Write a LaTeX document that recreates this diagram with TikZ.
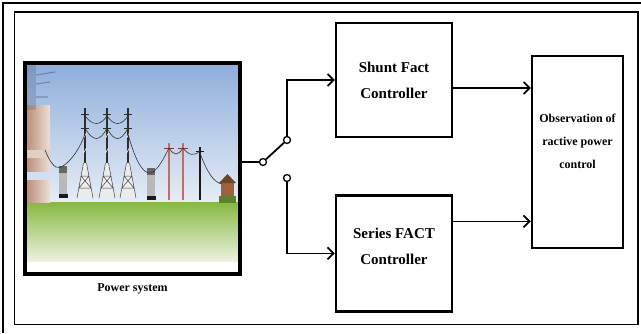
\documentclass[tikz,border=0pt]{standalone}
\usepackage{fontspec}
\setmainfont{Liberation Serif}
\usetikzlibrary{arrows.meta,positioning}
\definecolor{SkyTop}{HTML}{8FAEDC}
\definecolor{SkyLow}{HTML}{E6EDF6}
\definecolor{GrassTop}{HTML}{86B842}
\definecolor{GrassLow}{HTML}{EEF3E2}
\definecolor{PoleRed}{HTML}{C96A62}
\definecolor{BrickBrown}{HTML}{A0603E}
\tikzset{
  block/.style={
    draw,
    line width=2.4pt,
    minimum width=116pt,
    inner sep=0pt,
    align=center,
    font=\fontsize{15}{26}\selectfont\bfseries
  },
  contact/.style={
    draw,circle,fill=white,line width=1.3pt,inner sep=0pt,minimum size=7pt
  },
  wire/.style={
    line width=1.8pt,
  },
  signal/.style={
    wire,
    -{Straight Barb[length=6pt,width=12pt]},
  },
  cable/.style={
    gray!40!black,
    line width=0.6pt,
  },
  tower/.pic={
    \fill[white!85!gray] (-8,0) -- (-1.5,-35) -- (1.5,-35) -- (8,0) -- cycle;
    \draw[gray!50!black, line width=0.5pt]
      (-8,0) -- (-1.5,-35) (8,0) -- (1.5,-35)
      (-6,-10) -- (6,-10) (-4,-22) -- (4,-22)
      (-6,-10) -- (4,-22) (6,-10) -- (-4,-22);
    \fill[gray!35!black] (-1.3,-35) rectangle (1.3,-90);
    \draw[white, line width=0.5pt] (-1.3,-45) -- (1.3,-50) (-1.3,-60) -- (1.3,-65);
    \draw[gray!35!black, line width=0.8pt] (-4,-84) -- (4,-84) (-4,-70) -- (4,-70);
  },
  xfmr/.pic={
    \fill[gray!55] (-4,0) rectangle (4,-32);
    \fill[gray!80!black] (-4,-32) rectangle (4,-25);
    \fill[gray!20!black] (-4.5,0) rectangle (4.5,-4);
  },
}

\begin{document}
\begin{tikzpicture}[x=1pt,y=-1pt]
  \useasboundingbox (0,0) rectangle (641,333);
  % frames
  \draw[line width=1.3pt] (3,333) -- (3,3) -- (641,3);
  \draw[line width=1.5pt] (14.5,12) rectangle (638,324.5);

  % power system scene
  \begin{scope}
    \clip (27,65) rectangle (239,272);
    \shade[top color=SkyTop, bottom color=SkyLow] (27,65) rectangle (239,202);
    \shade[top color=GrassTop, bottom color=GrassLow] (27,202) rectangle (239,262);
    \fill[white] (27,262) rectangle (239,272);
    \shade[left color=BrickBrown!70, right color=BrickBrown!20] (27,105) rectangle (50,202);
    \fill[white!70!BrickBrown] (27,150) rectangle (50,158);
    \fill[white!60!SkyTop] (27,172) rectangle (50,180);
    \fill[SkyTop!60!black, opacity=0.3] (27,65) rectangle (36,110);
    \draw[SkyTop!50!black, opacity=0.45, line width=1.2pt] (36,75) -- (55,72) (36,84) -- (50,82) (36,97) -- (48,97);
    \pic at (63,198) {xfmr};
    \pic at (151,200) {xfmr};
    \pic at (85,198) {tower};
    \pic at (107,198) {tower};
    \pic at (128,198) {tower};
    \draw[PoleRed, line width=2pt] (169,200) -- (169,143);
    \draw[PoleRed, line width=2pt] (183,200) -- (183,143);
    \draw[PoleRed!60!black, line width=1pt] (164,148) -- (174,148) (178,148) -- (188,148);
    \draw[gray!20!black, line width=2.5pt] (200,200) -- (200,147);
    \draw[gray!20!black, line width=1pt] (196,151) -- (204,151);
    \fill[BrickBrown] (221,182) rectangle (234,200);
    \fill[BrickBrown!70!black] (219,183) -- (227.5,174) -- (236,183) -- cycle;
    \fill[GrassTop!70!black] (219,196) rectangle (236,203);
    % cables
    \draw[cable] (45,150) .. controls (54,172) and (59,168) .. (63,166);
    \draw[cable] (63,166) .. controls (72,160) and (80,148) .. (85,134);
    \draw[cable] (85,128) .. controls (93,142) and (100,142) .. (107,128);
    \draw[cable] (107,128) .. controls (114,142) and (121,142) .. (128,128);
    \draw[cable] (85,116) .. controls (93,126) and (100,126) .. (107,116);
    \draw[cable] (107,116) .. controls (114,126) and (121,126) .. (128,116);
    \draw[cable] (128,134) .. controls (134,156) and (142,175) .. (151,173);
    \draw[cable] (151,173) .. controls (158,170) and (164,158) .. (169,148);
    \draw[cable] (169,148) .. controls (174,156) and (178,156) .. (183,148);
    \draw[cable] (183,148) .. controls (189,156) and (195,156) .. (200,151);
    \draw[cable] (200,153) .. controls (207,172) and (214,183) .. (222,184);
  \end{scope}
  \node[draw, line width=3.2pt, minimum width=215pt, minimum height=211pt] (psys) at (132.5,168.5) {};
  \node[below=5pt of psys, font=\fontsize{12}{14}\selectfont\bfseries] (caption) {Power system};

  % blocks
  \node[block, minimum height=114pt] (shunt) at (394,80) {Shunt Fact\\Controller};
  \node[block, minimum height=116pt, text height=37pt, text depth=15pt, below=56pt of shunt] (series) {Series FACT\\Controller};
  \node[block, minimum width=91pt, minimum height=192pt, text height=55pt, text depth=23pt,
    font=\fontsize{12}{23}\selectfont\bfseries] (obs) at (577.5,152) {Observation of\\ractive power\\control};

  % switch
  \node[contact] (pivot) at (263,162) {};
  \node[contact] (upc) at (287,140) {};
  \node[contact] (lowc) at (287,178) {};
  \draw[wire] (psys.east |- pivot) -- (pivot);
  \draw[wire] (pivot) -- (upc);
  \draw[signal] (upc) |- (shunt.west);
  \draw[signal] (lowc) |- (series.west);
  \draw[signal] ([yshift=-8pt]shunt.east) -- ([yshift=-8pt]shunt.east -| obs.west);
  \draw[signal] ([yshift=32pt]series.east) -- ([yshift=32pt]series.east -| obs.west);
\end{tikzpicture}
\end{document}
